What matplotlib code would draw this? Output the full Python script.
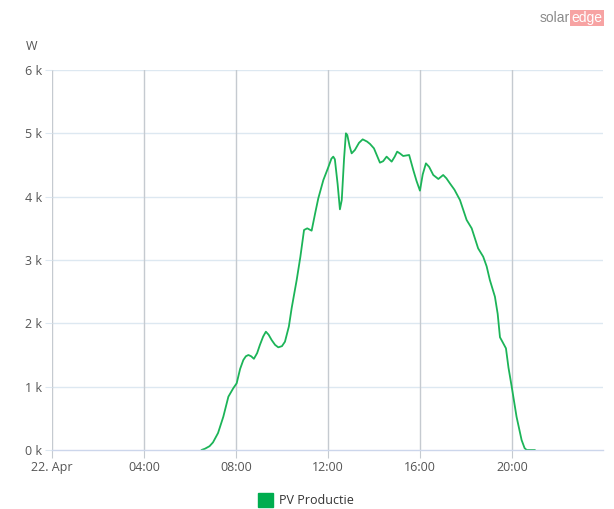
import matplotlib
matplotlib.use("Agg")
import matplotlib.pyplot as plt
from matplotlib.patches import Rectangle

plt.rcParams['font.family'] = ['Open Sans', 'DejaVu Sans']

# Data (hours of day, watts)
hours = [6.5, 6.65, 6.85, 7.0, 7.22, 7.45, 7.67, 7.88, 8.03, 8.18, 8.32, 8.43, 8.54, 8.66, 8.78,
         8.92, 9.04, 9.18, 9.30, 9.42, 9.55, 9.7, 9.84, 10.0, 10.13, 10.3, 10.42, 10.64, 10.8,
         10.96, 11.1, 11.29, 11.45, 11.58, 11.8, 12.0, 12.15, 12.23, 12.3, 12.42, 12.52, 12.6,
         12.7, 12.78, 12.84, 12.94, 13.03, 13.17, 13.35, 13.51, 13.7, 13.83, 14.0, 14.13, 14.26,
         14.4, 14.55, 14.77, 14.9, 15.01, 15.14, 15.27, 15.53, 15.71, 15.85, 16.0, 16.12, 16.26,
         16.4, 16.58, 16.8, 17.01, 17.15, 17.3, 17.5, 17.74, 18.03, 18.25, 18.53, 18.75, 18.9,
         19.04, 19.26, 19.38, 19.48, 19.6, 19.74, 19.85, 19.99, 20.2, 20.42, 20.55, 20.64, 21.0]
watts = [0, 20, 60, 120, 268, 526, 842, 974, 1053, 1280, 1421, 1480, 1500, 1480, 1440,
         1530, 1658, 1790, 1868, 1820, 1737, 1660, 1621, 1640, 1710, 1950, 2237, 2684, 3050,
         3474, 3500, 3463, 3750, 3974, 4263, 4450, 4600, 4632, 4590, 4200, 3800, 3947,
         4600, 5000, 4974, 4800, 4684, 4737, 4850, 4905, 4870, 4832, 4763, 4650, 4537,
         4560, 4632, 4553, 4630, 4711, 4680, 4642, 4658, 4421, 4250, 4095, 4350, 4526,
         4470, 4342, 4279, 4342, 4290, 4211, 4110, 3947, 3632, 3500, 3184, 3053, 2900,
         2684, 2421, 2150, 1780, 1700, 1605, 1300, 1000, 526, 158, 30, 0, 0]

x_ticks = [0, 4, 8, 12, 16, 20]
x_labels = ["22. Apr", "04:00", "08:00", "12:00", "16:00", "20:00"]
y_ticks = [0, 1000, 2000, 3000, 4000, 5000, 6000]
y_labels = ["0 k", "1 k", "2 k", "3 k", "4 k", "5 k", "6 k"]
series_name = "PV Productie"

W, H = 614, 509
fig = plt.figure(figsize=(W / 100, H / 100), dpi=100)
ax = fig.add_axes([52 / W, (H - 450) / H, (603 - 52) / W, (450 - 70) / H])

green = "#1cb458"
ax.plot(hours, watts, color=green, lw=1.3, solid_joinstyle="round", solid_capstyle="round")

ax.set_xlim(0, 23.96)
ax.set_ylim(0, 6000)
ax.set_xticks(x_ticks)
ax.set_xticklabels(x_labels)
ax.set_yticks(y_ticks)
ax.set_yticklabels(y_labels)

for y in y_ticks[1:]:
    ax.axhline(y, color="#dde8f1", lw=1, zorder=0)
for x in x_ticks:
    ax.axvline(x, color="#c5cad0", lw=1, zorder=0)

for s in ["top", "right", "left"]:
    ax.spines[s].set_visible(False)
ax.spines["bottom"].set_color("#ccd6eb")
ax.spines["bottom"].set_linewidth(1)

ax.tick_params(axis="x", length=6, color="#c5cad0", labelsize=9, labelcolor="#555555", pad=2)
ax.tick_params(axis="y", length=5, color="#dde8f1", labelsize=9, labelcolor="#555555", pad=2)

fig.text(32 / W, 1 - 46 / H, "W", fontsize=9, color="#555555", ha="center", va="center")

# Legend
fig.patches.append(Rectangle((258 / W, 1 - 507 / H), 15 / W, 14 / H,
                             transform=fig.transFigure, color="#00ad4f", figure=fig))
fig.text(279 / W, 1 - 500 / H, series_name, fontsize=9, color="#333333", ha="left", va="center")

# Logo
fig.text(570 / W, 1 - 18 / H, "solar", fontsize=10, color="#8a8a8a", ha="right", va="center",
         family="Liberation Sans")
fig.text(571.5 / W, 1 - 18 / H, "edge", fontsize=10, color="white", ha="left", va="center",
         family="Liberation Sans",
         bbox=dict(boxstyle="square,pad=0.08", fc="#f7a3a3", ec="none"))

fig.savefig("out.png", dpi=100)
